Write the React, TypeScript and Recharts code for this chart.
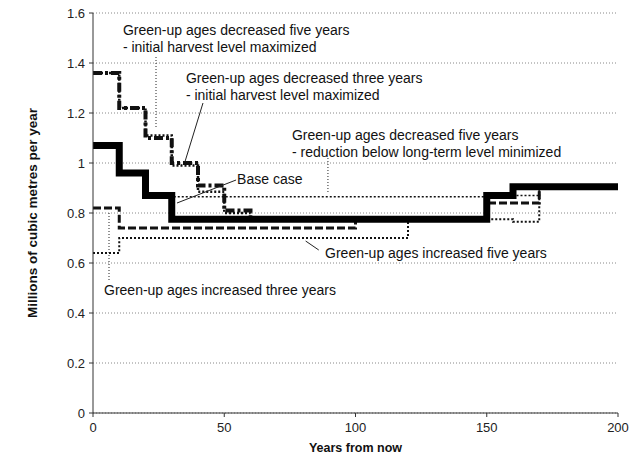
import React from 'react'
import {
  LineChart,
  Line,
  XAxis,
  YAxis,
  CartesianGrid,
  ReferenceLine,
  ReferenceDot,
} from 'recharts'

// step breakpoints (years from now)
const years = [0, 10, 20, 30, 40, 50, 60, 100, 120, 150, 160, 170, 200]

// millions of m3 / year, value holds until the next breakpoint
const baseCase = [1.07, 0.96, 0.87, 0.775, 0.775, 0.775, 0.775, 0.775, 0.775, 0.87, 0.905, 0.905, 0.905]
const dec5Max = [1.36, 1.22, 1.1, 1.0, 0.91, 0.81, 0.775, 0.775, 0.775, 0.87, 0.905, 0.905, 0.905]
const dec3Max = [1.36, 1.22, 1.11, 0.99, 0.885, 0.8, 0.775, 0.775, 0.775, 0.87, 0.905, 0.905, 0.905]
const dec5Min = [1.07, 0.96, 0.87, 0.865, 0.865, 0.865, 0.865, 0.865, 0.865, 0.87, 0.87, 0.905, 0.905]
const inc3 = [0.82, 0.74, 0.74, 0.74, 0.74, 0.74, 0.74, 0.775, 0.775, 0.84, 0.84, 0.905, 0.905]
const inc5 = [0.64, 0.7, 0.7, 0.7, 0.7, 0.7, 0.7, 0.7, 0.775, 0.775, 0.765, 0.905, 0.905]

const yTicks = [0, 0.2, 0.4, 0.6, 0.8, 1, 1.2, 1.4, 1.6]
const xTicks = [0, 50, 100, 150, 200]

const data = years.map((year, i) => ({
  year,
  baseCase: baseCase[i],
  dec5Max: dec5Max[i],
  dec3Max: dec3Max[i],
  dec5Min: dec5Min[i],
  inc3: inc3[i],
  inc5: inc5[i],
}))

// annotation text: anchor = left edge / first baseline, in data units
const notes = [
  { x: 11.4, y: 1.512, lines: ['Green-up ages decreased five years', '- initial harvest level maximized'] },
  { x: 35.4, y: 1.32, lines: ['Green-up ages decreased three years', '- initial harvest level maximized'] },
  { x: 75.8, y: 1.092, lines: ['Green-up ages decreased five years', '- reduction below long-term level minimized'] },
  { x: 54.9, y: 0.916, lines: ['Base case'] },
  { x: 88.4, y: 0.62, lines: ['Green-up ages increased five years'] },
  { x: 4.2, y: 0.472, lines: ['Green-up ages increased three years'] },
]

// leader lines
const leaders = [
  { from: [24, 1.424], to: [24, 1.14], dotted: true },
  { from: [41.9, 1.24], to: [35, 1.004], dotted: false },
  { from: [89.5, 1.02], to: [89.5, 0.88], dotted: true },
  { from: [54.5, 0.932], to: [32, 0.84], dotted: false },
  { from: [86, 0.652], to: [81, 0.688], dotted: false },
  { from: [6.1, 0.532], to: [6.1, 0.804], dotted: true },
]

const FONT = '"Liberation Sans", Arial, sans-serif'

const noteShape = (lines: string[]) => (props: any) => (
  <text x={props.cx} y={props.cy} fontFamily={FONT} fontSize={14} fill="#111">
    {lines.map((l, i) => (
      <tspan key={i} x={props.cx} dy={i === 0 ? 0 : 17}>
        {l}
      </tspan>
    ))}
  </text>
)

export default function App() {
  return (
    <div style={{ position: 'absolute', left: 0, top: 0, width: 634, height: 462, background: '#fff' }}>
      <LineChart
        width={634}
        height={462}
        data={data}
        margin={{ top: 13, right: 16, left: 0, bottom: 0 }}
      >
        <CartesianGrid vertical={false} stroke="#888" strokeDasharray="1 2" />
        <XAxis
          dataKey="year"
          type="number"
          domain={[0, 200]}
          ticks={xTicks}
          height={49}
          tickSize={4}
          tickMargin={6}
          stroke="#333"
          tick={{ fontSize: 13, fill: '#222', fontFamily: FONT }}
          label={{ value: 'Years from now', position: 'insideBottom', offset: 10, style: { fontSize: 12.5, fontWeight: 'bold', fill: '#111', fontFamily: FONT } }}
        />
        <YAxis
          type="number"
          domain={[0, 1.6]}
          ticks={yTicks}
          width={93}
          tickSize={4}
          tickMargin={4}
          stroke="#333"
          tick={{ fontSize: 13, fill: '#222', fontFamily: FONT }}
          label={{ value: 'Millions of cubic metres per year', angle: -90, position: 'insideLeft', offset: 32, style: { textAnchor: 'middle', fontSize: 13.5, fontWeight: 'bold', fill: '#111', fontFamily: FONT } }}
        />

        <Line type="stepAfter" dataKey="inc5" stroke="#111" strokeWidth={2} strokeDasharray="2 2" dot={false} isAnimationActive={false} />
        <Line type="stepAfter" dataKey="inc3" stroke="#111" strokeWidth={3} strokeDasharray="8 3" dot={false} isAnimationActive={false} />
        <Line type="stepAfter" dataKey="dec5Min" stroke="#111" strokeWidth={1.5} strokeDasharray="2 2" dot={false} isAnimationActive={false} />
        <Line type="stepAfter" dataKey="dec3Max" stroke="#111" strokeWidth={2.5} strokeDasharray="2 2" dot={false} isAnimationActive={false} />
        <Line type="stepAfter" dataKey="dec5Max" stroke="#111" strokeWidth={4} strokeDasharray="9 3 3 3" dot={false} isAnimationActive={false} />
        <Line type="stepAfter" dataKey="baseCase" stroke="#000" strokeWidth={7} dot={false} isAnimationActive={false} />

        {leaders.map((l, i) => (
          <ReferenceLine
            key={'l' + i}
            segment={[
              { x: l.from[0], y: l.from[1] },
              { x: l.to[0], y: l.to[1] },
            ]}
            stroke="#222"
            strokeWidth={1}
            strokeDasharray={l.dotted ? '1 2' : undefined}
          />
        ))}
        {notes.map((n, i) => (
          <ReferenceDot key={'n' + i} x={n.x} y={n.y} r={0} shape={noteShape(n.lines)} />
        ))}
      </LineChart>
    </div>
  )
}
